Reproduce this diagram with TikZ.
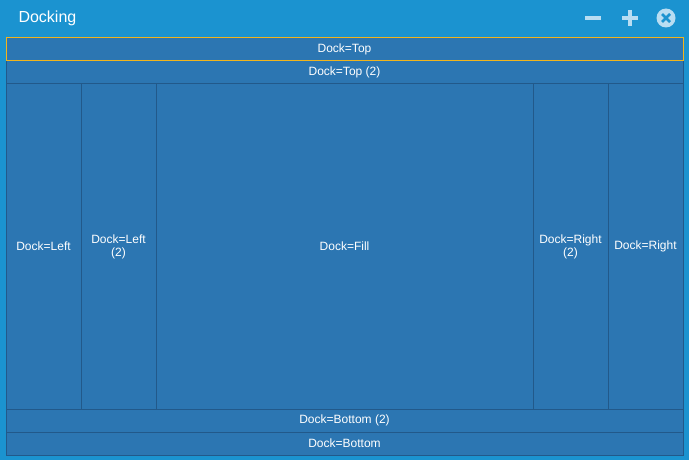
\documentclass[tikz,border=0pt]{standalone}
\usepackage{fontspec}
\setmainfont{Liberation Sans}
\definecolor{bg}{HTML}{1B93D0}
\definecolor{pane}{HTML}{2C76B2}
\definecolor{edge}{HTML}{22598A}
\definecolor{icon}{HTML}{B8DDF2}
\definecolor{sel}{HTML}{F2B51C}
\begin{document}
\begin{tikzpicture}[x=1pt,y=-1pt,
  pn/.style={draw=edge,fill=pane,line width=1pt,text=white,font=\fontsize{12}{13}\selectfont,align=center},
  ic/.style={draw=icon,line width=3.2pt}]
\fill[bg] (0,0) rectangle (689,460);
\useasboundingbox (0,0) rectangle (689,460);
\node[anchor=west,text=white,font=\fontsize{16}{18}\selectfont] (title) at (15,18) {Docking};
\draw[ic] (585,18) -- (601,18);
\draw[ic] (622,18) -- (638,18) (630,10) -- (630,26);
\fill[icon] (666,18) circle (9.5);
\draw[bg,line width=2.6pt] (662,14) -- (670,22) (670,14) -- (662,22);
\node[pn] (top2) at (344.5,72.5) [minimum width=677,minimum height=23] {Dock=Top (2)};
\node[pn] (left) at (43.5,246.5) [minimum width=75,minimum height=325] {Dock=Left};
\node[pn] (left2) at (118.5,246.5) [minimum width=75,minimum height=325] {Dock=Left\\(2)};
\node[pn] (fill) at (344.5,246.5) [minimum width=377,minimum height=325] {Dock=Fill};
\node[pn] (right2) at (570.5,246.5) [minimum width=75,minimum height=325] {Dock=Right\\(2)};
\node[pn] (right) at (645.5,246.5) [minimum width=75,minimum height=325] {Dock=Right};
\node[pn] (bot2) at (344.5,420.5) [minimum width=677,minimum height=23] {Dock=Bottom (2)};
\node[pn] (bot) at (344.5,443.5) [minimum width=677,minimum height=23] {Dock=Bottom};
\node[pn,draw=sel] (top) at (344.5,49.5) [minimum width=677,minimum height=23] {Dock=Top};
\end{tikzpicture}
\end{document}
